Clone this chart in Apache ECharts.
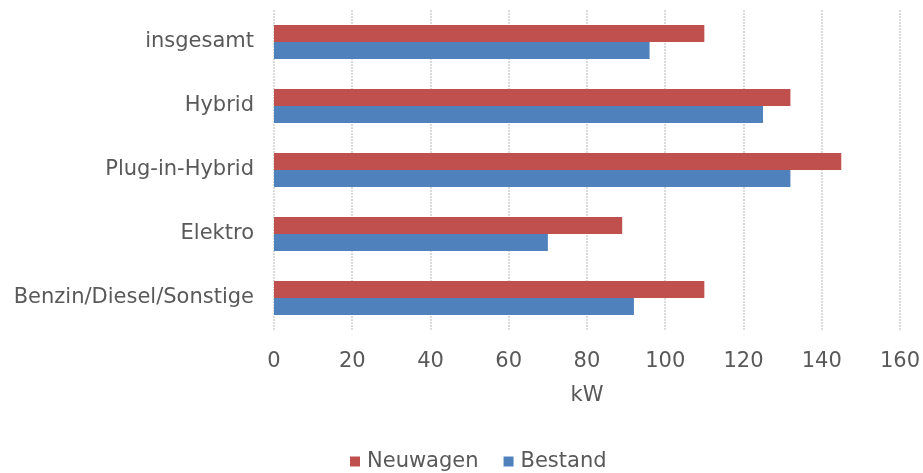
<!DOCTYPE html>
<html>
<head>
<meta charset="utf-8">
<script src="https://cdn.jsdelivr.net/npm/echarts@6/dist/echarts.min.js"></script>
<style>
  html, body { margin: 0; padding: 0; background: #fff; }
  #chart { width: 923px; height: 473px; }
</style>
</head>
<body>
<div id="chart"></div>
<script>
// Kategorien von oben nach unten
const categories = ['insgesamt', 'Hybrid', 'Plug-in-Hybrid', 'Elektro', 'Benzin/Diesel/Sonstige'];
const neuwagen = [110, 132, 145, 89, 110];
const bestand = [96, 125, 132, 70, 92];
const xTicks = { min: 0, max: 160, interval: 20 };

const textColor = '#595959';
const font = 'DejaVu Sans, sans-serif';

const chart = echarts.init(document.getElementById('chart'));

const option = {
  animation: false,
  textStyle: { fontFamily: font },
  grid: {
    left: 274,
    right: 23,
    top: 10,
    bottom: 143
  },
  legend: {
    data: ['Neuwagen', 'Bestand'],
    bottom: -4,
    left: 345,
    icon: 'rect',
    itemWidth: 10,
    itemHeight: 10,
    itemGap: 25,
    itemStyle: { borderWidth: 0 },
    textStyle: { color: textColor, fontSize: 21, fontFamily: font, padding: [0, 0, 0, 2] }
  },
  xAxis: {
    type: 'value',
    min: xTicks.min,
    max: xTicks.max,
    interval: xTicks.interval,
    name: 'kW',
    nameLocation: 'middle',
    nameGap: 55,
    nameTextStyle: { color: textColor, fontSize: 21, fontFamily: font },
    axisLine: { show: false },
    axisTick: { show: false },
    axisLabel: { color: textColor, fontSize: 21, margin: 21, fontFamily: font },
    splitLine: {
      show: true,
      lineStyle: { color: '#d0d0d0', width: 1.5, type: [2, 1] }
    }
  },
  yAxis: {
    type: 'category',
    data: categories,
    inverse: true,
    axisLine: { show: false },
    axisTick: { show: false },
    axisLabel: { color: textColor, fontSize: 21, margin: 20, fontFamily: font }
  },
  series: [
    {
      name: 'Neuwagen',
      type: 'bar',
      data: neuwagen,
      barCategoryGap: '47%',
      barGap: '0%',
      itemStyle: { color: '#C0504D' }
    },
    {
      name: 'Bestand',
      type: 'bar',
      data: bestand,
      barCategoryGap: '47%',
      barGap: '0%',
      itemStyle: { color: '#4F81BD' }
    }
  ]
};

chart.setOption(option);
</script>
</body>
</html>
